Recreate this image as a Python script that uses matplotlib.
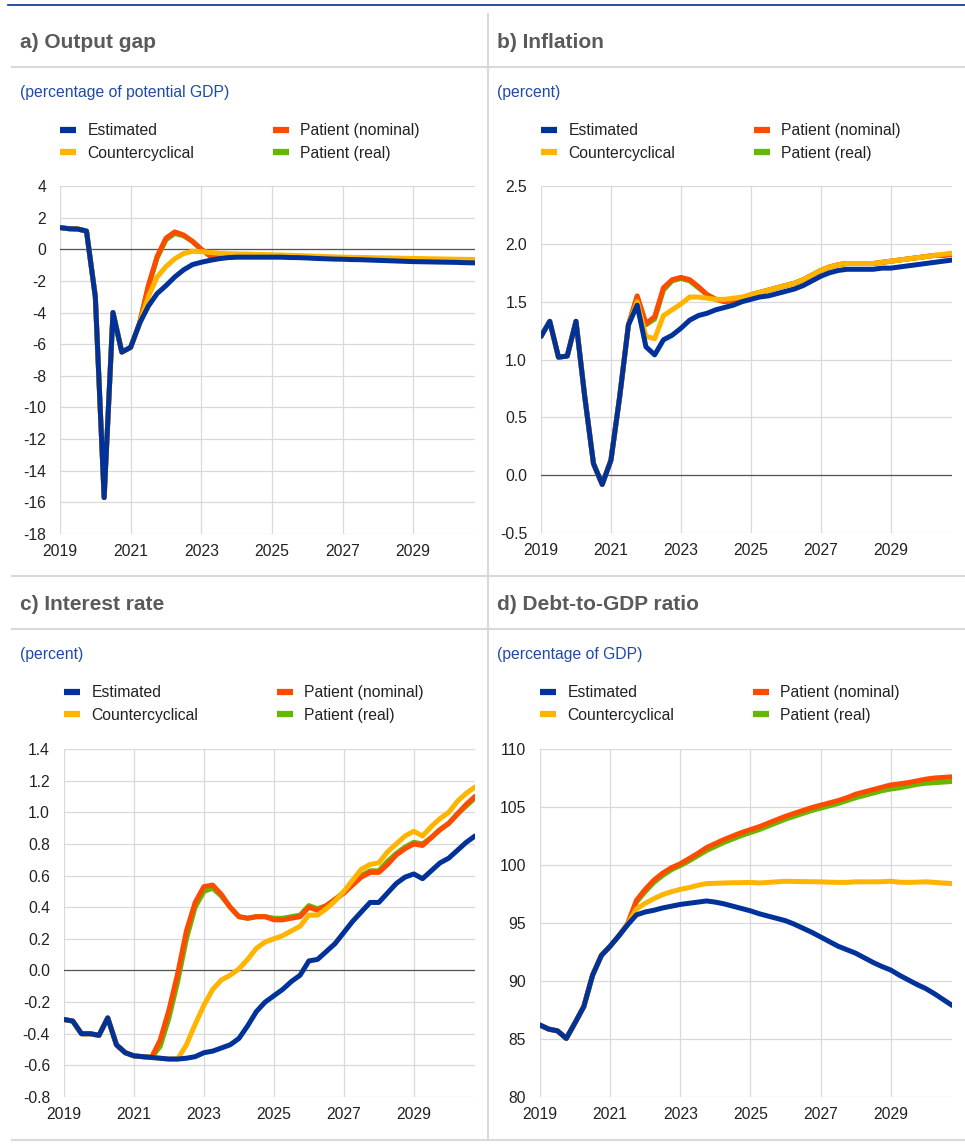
import matplotlib
matplotlib.use("Agg")
import matplotlib.pyplot as plt
import numpy as np

plt.rcParams['font.family'] = ['Liberation Sans', 'DejaVu Sans']
plt.rcParams['axes.unicode_minus'] = False

# quarterly, 2019Q1 .. 2030Q4
quarters = 2019 + np.arange(48) / 4
year_ticks = [2019, 2021, 2023, 2025, 2027, 2029]
labels = ['Estimated', 'Countercyclical', 'Patient (nominal)', 'Patient (real)']
colors = ['#003299', '#FFB400', '#FF4B00', '#65B800']

# a) output gap
gap_est = [1.37, 1.30, 1.28, 1.15, -3.0, -15.7, -4.0, -6.5,
           -6.2, -4.7, -3.6, -2.8, -2.3, -1.75, -1.3, -0.97,
           -0.82, -0.7, -0.6, -0.53, -0.5, -0.5, -0.5, -0.5,
           -0.5, -0.5, -0.52, -0.53, -0.55, -0.58, -0.6, -0.62,
           -0.63, -0.65, -0.66, -0.68, -0.7, -0.72, -0.74, -0.76,
           -0.78, -0.79, -0.8, -0.81, -0.82, -0.83, -0.85, -0.86]
gap_cc = [1.37, 1.30, 1.28, 1.15, -3.0, -15.7, -4.0, -6.5,
          -6.2, -4.7, -3.0, -1.75, -1.1, -0.6, -0.27, -0.13,
          -0.15, -0.2, -0.25, -0.28, -0.3, -0.3, -0.32, -0.33,
          -0.35, -0.36, -0.38, -0.4, -0.42, -0.44, -0.46, -0.48,
          -0.5, -0.51, -0.52, -0.53, -0.54, -0.55, -0.56, -0.57,
          -0.58, -0.59, -0.6, -0.61, -0.62, -0.63, -0.64, -0.65]
gap_nom = [1.37, 1.30, 1.28, 1.15, -3.0, -15.7, -4.0, -6.5,
           -6.2, -4.7, -2.3, -0.45, 0.7, 1.1, 0.9, 0.5,
           0.0, -0.42, -0.5, -0.5, -0.45, -0.42, -0.4, -0.4,
           -0.4, -0.42, -0.44, -0.46, -0.48, -0.5, -0.52, -0.54,
           -0.55, -0.56, -0.57, -0.58, -0.59, -0.6, -0.61, -0.62,
           -0.63, -0.64, -0.65, -0.66, -0.67, -0.68, -0.69, -0.7]
gap_real = [1.37, 1.30, 1.28, 1.15, -3.0, -15.7, -4.0, -6.5,
            -6.2, -4.7, -2.4, -0.55, 0.6, 1.0, 0.85, 0.5,
            0.0, -0.42, -0.5, -0.5, -0.45, -0.42, -0.4, -0.4,
            -0.4, -0.42, -0.44, -0.46, -0.48, -0.5, -0.52, -0.54,
            -0.55, -0.56, -0.57, -0.58, -0.59, -0.6, -0.61, -0.62,
            -0.63, -0.64, -0.65, -0.66, -0.67, -0.68, -0.69, -0.7]

# b) inflation
inf_est = [1.20, 1.33, 1.02, 1.03, 1.33, 0.68, 0.10, -0.08,
           0.13, 0.68, 1.30, 1.47, 1.11, 1.04, 1.17, 1.21,
           1.27, 1.34, 1.38, 1.40, 1.43, 1.45, 1.47, 1.50,
           1.52, 1.54, 1.55, 1.57, 1.59, 1.61, 1.64, 1.68,
           1.72, 1.75, 1.77, 1.78, 1.78, 1.78, 1.78, 1.79,
           1.79, 1.80, 1.81, 1.82, 1.83, 1.84, 1.85, 1.86]
inf_cc = [1.20, 1.33, 1.02, 1.03, 1.33, 0.68, 0.10, -0.08,
          0.13, 0.68, 1.30, 1.50, 1.20, 1.18, 1.38, 1.43,
          1.48, 1.54, 1.54, 1.53, 1.52, 1.52, 1.53, 1.54,
          1.56, 1.58, 1.60, 1.62, 1.64, 1.66, 1.69, 1.73,
          1.77, 1.80, 1.82, 1.83, 1.83, 1.83, 1.83, 1.84,
          1.85, 1.86, 1.87, 1.88, 1.89, 1.90, 1.91, 1.92]
inf_nom = [1.20, 1.33, 1.02, 1.03, 1.33, 0.68, 0.10, -0.08,
           0.13, 0.68, 1.30, 1.55, 1.31, 1.37, 1.62, 1.69,
           1.71, 1.69, 1.63, 1.56, 1.52, 1.50, 1.51, 1.53,
           1.56, 1.58, 1.60, 1.62, 1.64, 1.66, 1.69, 1.73,
           1.77, 1.80, 1.82, 1.83, 1.83, 1.83, 1.83, 1.84,
           1.85, 1.86, 1.87, 1.88, 1.89, 1.90, 1.90, 1.91]
inf_real = [1.20, 1.33, 1.02, 1.03, 1.33, 0.68, 0.10, -0.08,
            0.13, 0.68, 1.30, 1.54, 1.30, 1.35, 1.60, 1.68,
            1.70, 1.68, 1.62, 1.56, 1.52, 1.50, 1.51, 1.53,
            1.56, 1.58, 1.60, 1.62, 1.64, 1.66, 1.69, 1.73,
            1.77, 1.80, 1.82, 1.83, 1.83, 1.83, 1.83, 1.84,
            1.85, 1.86, 1.87, 1.88, 1.89, 1.90, 1.90, 1.91]

# c) interest rate
rate_est = [-0.31, -0.32, -0.40, -0.40, -0.41, -0.30, -0.47, -0.52,
            -0.54, -0.545, -0.55, -0.555, -0.56, -0.56, -0.555, -0.545,
            -0.52, -0.51, -0.49, -0.47, -0.43, -0.35, -0.26, -0.20,
            -0.16, -0.12, -0.07, -0.03, 0.06, 0.07, 0.12, 0.17,
            0.24, 0.31, 0.37, 0.43, 0.43, 0.49, 0.55, 0.59,
            0.61, 0.58, 0.63, 0.68, 0.71, 0.76, 0.81, 0.85]
rate_cc = [-0.31, -0.32, -0.40, -0.40, -0.41, -0.30, -0.47, -0.52,
           -0.54, -0.545, -0.55, -0.555, -0.56, -0.56, -0.47, -0.34,
           -0.22, -0.12, -0.06, -0.03, 0.01, 0.07, 0.14, 0.18,
           0.20, 0.22, 0.25, 0.28, 0.35, 0.35, 0.39, 0.44,
           0.50, 0.57, 0.64, 0.67, 0.68, 0.75, 0.80, 0.85,
           0.88, 0.85, 0.91, 0.96, 1.00, 1.07, 1.12, 1.16]
rate_nom = [-0.31, -0.32, -0.40, -0.40, -0.41, -0.30, -0.47, -0.52,
            -0.54, -0.545, -0.55, -0.44, -0.25, -0.02, 0.25, 0.43,
            0.53, 0.54, 0.48, 0.40, 0.34, 0.33, 0.34, 0.34,
            0.32, 0.32, 0.33, 0.34, 0.40, 0.38, 0.41, 0.45,
            0.49, 0.54, 0.59, 0.62, 0.62, 0.67, 0.73, 0.77,
            0.80, 0.79, 0.84, 0.89, 0.93, 0.99, 1.05, 1.10]
rate_real = [-0.31, -0.32, -0.40, -0.40, -0.41, -0.30, -0.47, -0.52,
             -0.54, -0.545, -0.55, -0.48, -0.30, -0.07, 0.20, 0.40,
             0.50, 0.52, 0.47, 0.40, 0.34, 0.33, 0.34, 0.34,
             0.33, 0.33, 0.34, 0.35, 0.41, 0.39, 0.41, 0.45,
             0.49, 0.55, 0.60, 0.63, 0.63, 0.69, 0.74, 0.78,
             0.81, 0.80, 0.84, 0.89, 0.93, 0.99, 1.04, 1.09]

# d) debt-to-GDP
debt_est = [86.2, 85.85, 85.7, 85.05, 86.4, 87.8, 90.5, 92.2,
            93.0, 93.9, 94.85, 95.7, 95.95, 96.1, 96.3, 96.45,
            96.6, 96.7, 96.8, 96.9, 96.8, 96.65, 96.45, 96.25,
            96.05, 95.8, 95.6, 95.4, 95.2, 94.9, 94.55, 94.2,
            93.8, 93.4, 93.0, 92.7, 92.4, 92.0, 91.6, 91.25,
            90.95, 90.5, 90.1, 89.7, 89.35, 88.9, 88.4, 87.9]
debt_cc = [86.2, 85.85, 85.7, 85.05, 86.4, 87.8, 90.5, 92.2,
           93.0, 93.9, 94.9, 96.2, 96.7, 97.1, 97.45, 97.7,
           97.9, 98.05, 98.25, 98.4, 98.42, 98.45, 98.47, 98.48,
           98.5, 98.45, 98.5, 98.55, 98.6, 98.58, 98.57, 98.56,
           98.55, 98.52, 98.5, 98.5, 98.55, 98.55, 98.55, 98.56,
           98.6, 98.52, 98.5, 98.52, 98.55, 98.5, 98.45, 98.4]
debt_nom = [86.2, 85.85, 85.7, 85.05, 86.4, 87.8, 90.5, 92.2,
            93.0, 93.9, 94.95, 96.95, 97.9, 98.7, 99.3, 99.77,
            100.1, 100.55, 101.0, 101.5, 101.85, 102.2, 102.5, 102.8,
            103.05, 103.3, 103.6, 103.9, 104.2, 104.45, 104.7, 104.95,
            105.15, 105.35, 105.55, 105.8, 106.1, 106.3, 106.5, 106.7,
            106.9, 107.0, 107.1, 107.25, 107.4, 107.5, 107.55, 107.6]
debt_real = [86.2, 85.85, 85.7, 85.05, 86.4, 87.8, 90.5, 92.2,
             93.0, 93.9, 94.9, 96.8, 97.7, 98.5, 99.1, 99.6,
             99.95, 100.35, 100.8, 101.25, 101.6, 101.95, 102.25, 102.55,
             102.8, 103.05, 103.35, 103.65, 103.95, 104.2, 104.45, 104.7,
             104.9, 105.1, 105.3, 105.55, 105.8, 106.0, 106.2, 106.4,
             106.55, 106.65, 106.8, 106.95, 107.05, 107.1, 107.15, 107.2]

W, H = 965, 1146
fig = plt.figure(figsize=(W / 100, H / 100), dpi=100)


def fx(x):
    return x / W


def fy(y):
    return 1 - y / H


def hline(y, x0, x1, color='#d9d9d9', lw=1.5):
    fig.add_artist(plt.Line2D([fx(x0), fx(x1)], [fy(y), fy(y)],
                              transform=fig.transFigure, color=color, lw=lw))


# frame lines
hline(5, 8, 965, color='#003299', lw=1.2)
for y in (66.5, 576, 629, 1139.5):
    hline(y, 12, 965)
fig.add_artist(plt.Line2D([fx(487.5), fx(487.5)], [fy(14), fy(1140)],
                          transform=fig.transFigure, color='#d9d9d9', lw=1.5))

panels = [
    # title, unit, box (left, right, top, bottom px), text x, title y, series, ylim, ticks, fmt
    ('a) Output gap', '(percentage of potential GDP)', (60, 475, 186, 534), 20, 43,
     [gap_est, gap_cc, gap_nom, gap_real], (-18, 4), np.arange(-18, 5, 2), '{:.0f}'),
    ('b) Inflation', '(percent)', (541, 952, 186, 533), 497, 43,
     [inf_est, inf_cc, inf_nom, inf_real], (-0.5, 2.5), np.arange(-0.5, 2.6, 0.5), '{:.1f}'),
    ('c) Interest rate', '(percent)', (64, 475, 749, 1097), 20, 605,
     [rate_est, rate_cc, rate_nom, rate_real], (-0.8, 1.4), np.arange(-0.8, 1.41, 0.2), '{:.1f}'),
    ('d) Debt-to-GDP ratio', '(percentage of GDP)', (540, 952, 749, 1097), 497, 605,
     [debt_est, debt_cc, debt_nom, debt_real], (80, 110), np.arange(80, 111, 5), '{:.0f}'),
]

for title, unit, (l, r, t, b), tx, ty, series, ylim, ticks, fmt in panels:
    fig.text(fx(tx), fy(ty), title, fontsize=15, fontweight='bold',
             color='#5a5a5a', ha='left', va='center')
    fig.text(fx(tx), fy(ty + 50), unit, fontsize=11.3, color='#1f4aa8',
             ha='left', va='center')

    ax = fig.add_axes([fx(l), fy(b), fx(r) - fx(l), fy(t) - fy(b)])
    for s in ax.spines.values():
        s.set_visible(False)
    ax.set_xlim(2019, 2030.75)
    ax.set_ylim(*ylim)
    ax.set_xticks(year_ticks)
    ax.set_yticks(ticks)
    ax.set_yticklabels([fmt.format(round(v, 1) + 0.0) for v in ticks])
    ax.tick_params(length=0, labelsize=11.3, labelcolor='#222222')
    ax.tick_params(axis='y', pad=10)
    ax.tick_params(axis='x', pad=7)
    ax.grid(True, color='#d9d9d9', lw=0.9)
    ax.set_axisbelow(True)
    ax.axhline(0, color='#555555', lw=0.9, zorder=1.5)

    handles = {}
    # draw order: real, nominal, countercyclical, estimated on top
    for i in (3, 2, 1, 0):
        ln, = ax.plot(quarters, series[i], color=colors[i], lw=3.6,
                      solid_joinstyle='round', solid_capstyle='round', zorder=2 + (3 - i))
        handles[i] = ln

    leg_y = fy(ty + 99)
    for col, (i0, i1) in enumerate([(0, 1), (2, 3)]):
        leg = fig.legend([handles[i0], handles[i1]], [labels[i0], labels[i1]],
                         loc='center left', bbox_to_anchor=(fx(l + 213 * col), leg_y),
                         frameon=False, fontsize=11.3, borderpad=0, borderaxespad=0,
                         handlelength=1.05, handletextpad=0.7, labelspacing=0.5)
        for lh in leg.get_lines():
            lh.set_linewidth(4.5)
            lh.set_solid_capstyle('butt')
        for txt in leg.get_texts():
            txt.set_color('#222222')

fig.savefig('out.png', dpi=100)
